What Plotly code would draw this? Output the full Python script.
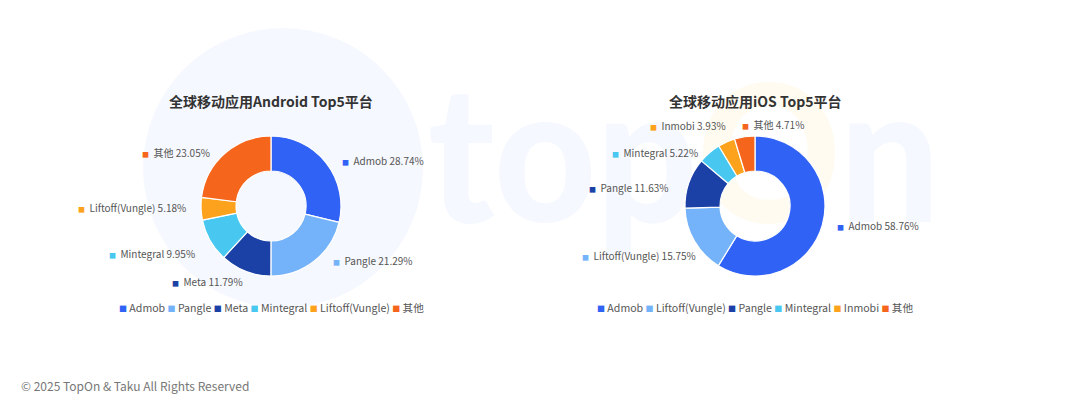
import base64
import math
import plotly.graph_objects as go

android_labels = ["Admob", "Pangle", "Meta", "Mintegral", "Liftoff(Vungle)", "其他"]
android_values = [28.74, 21.29, 11.79, 9.95, 5.18, 23.05]

ios_labels = ["Admob", "Liftoff(Vungle)", "Pangle", "Mintegral", "Inmobi", "其他"]
ios_values = [58.76, 15.75, 11.63, 5.22, 3.93, 4.71]

slice_colors = ["#3162F6", "#74B3FA", "#1C41A6", "#48C8F0", "#FCA21C", "#F5661C"]

W, H = 1080, 413
FONT = "Noto Sans CJK SC"
TEXT_GREY = "#555555"

# layout of the two donuts (pixels)
android_center = (271, 206)
ios_center = (755, 206)
RADIUS = 70
LABEL_R = 78
# collision-avoidance nudges for the outside labels (pixels), like the source chart's label layout
android_nudge = [(0, 3), (4, -7), (10, 3), (2, 9), (3, -2), (1, 5)]
ios_nudge = [(-3, -2), (18, 10), (-2, 7), (4, 6), (13, -9), (70, -4)]


def px(x, y):
    return x / W, 1 - y / H


def domain(center):
    cx, cy = center
    return dict(x=[(cx - RADIUS) / W, (cx + RADIUS) / W],
                y=[1 - (cy + RADIUS) / H, 1 - (cy - RADIUS) / H])


fig = go.Figure()

# faint background watermark
svg = f'''<svg xmlns="http://www.w3.org/2000/svg" width="{W}" height="{H}" viewBox="0 0 {W} {H}">
<circle cx="283" cy="168" r="140" fill="#F5F8FE"/>
<text x="428" y="222" font-family="Lato" font-weight="900" font-size="190" fill="#F5F8FE"
 textLength="512" lengthAdjust="spacingAndGlyphs">top<tspan fill="#FFFBF0">O</tspan>n</text>
</svg>'''
fig.add_layout_image(source="data:image/svg+xml;base64," + base64.b64encode(svg.encode()).decode(),
                     xref="paper", yref="paper", x=0, y=1, sizex=1, sizey=1,
                     xanchor="left", yanchor="top", sizing="stretch", layer="below")


def add_donut(labels, values, center, nudges, title):
    fig.add_trace(go.Pie(
        labels=labels, values=values, sort=False, direction="clockwise", rotation=0,
        hole=0.5, marker=dict(colors=slice_colors, line=dict(color="white", width=1.2)),
        textinfo="none", hoverinfo="label+percent", showlegend=False,
        domain=domain(center),
    ))
    total = sum(values)
    cum = 0
    cx, cy = center
    for lab, val, col, (dx, dy) in zip(labels, values, slice_colors, nudges):
        mid = (cum + val / 2) / total * 2 * math.pi
        cum += val
        s, c = math.sin(mid), math.cos(mid)
        side = 1 if s >= 0 else -1
        x = cx + LABEL_R * s + side * 8 + dx
        y = cy - LABEL_R * c + dy
        xx, yy = px(x, y)
        fig.add_annotation(
            x=xx, y=yy, xref="paper", yref="paper", showarrow=False,
            xanchor="left" if side > 0 else "right", yanchor="middle",
            text=f"<span style='color:{col};font-size:7px'>■</span>  {lab} {val:.2f}%",
            font=dict(family=FONT, size=10, color=TEXT_GREY),
        )
    # title
    tx, ty = px(cx, 101)
    fig.add_annotation(x=tx, y=ty, xref="paper", yref="paper", showarrow=False,
                       xanchor="center", yanchor="middle",
                       text=f"<b>{title}</b>",
                       font=dict(family="Noto Sans CJK SC", size=14, color="#333333"))
    # legend row
    items = [f"<span style='color:{col};font-size:8px'>■</span> {lab}" for lab, col in zip(labels, slice_colors)]
    lx, ly = px(cx, 307)
    fig.add_annotation(x=lx, y=ly, xref="paper", yref="paper", showarrow=False,
                       xanchor="center", yanchor="middle",
                       text=" ".join(items),
                       font=dict(family=FONT, size=10.6, color=TEXT_GREY))


add_donut(android_labels, android_values, android_center, android_nudge, "全球移动应用Android Top5平台")
add_donut(ios_labels, ios_values, ios_center, ios_nudge, "全球移动应用iOS Top5平台")

fx, fy = px(19, 385)
fig.add_annotation(x=fx, y=fy, xref="paper", yref="paper", showarrow=False,
                   xanchor="left", yanchor="middle", text="© 2025 TopOn & Taku All Rights Reserved",
                   font=dict(family=FONT, size=12, color="#777777"))

fig.update_layout(
    width=W, height=H, margin=dict(l=0, r=0, t=0, b=0, autoexpand=False),
    paper_bgcolor="white", plot_bgcolor="white", showlegend=False,
)

fig.write_html("out.html", config={"displayModeBar": False},
               post_script="document.body.style.margin='0';")
